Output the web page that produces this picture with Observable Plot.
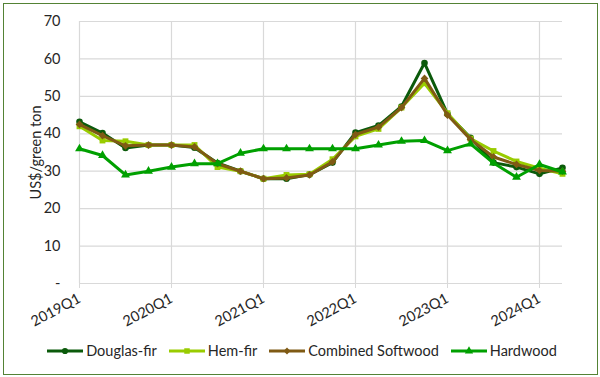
<!DOCTYPE html>
<html><head><meta charset="utf-8">
<script src="https://cdn.jsdelivr.net/npm/d3@7"></script>
<script src="https://cdn.jsdelivr.net/npm/@observablehq/plot@0.6"></script>
<style>
body{margin:0;background:#fff;font-family:Lato,"Open Sans",sans-serif;color:#262626;}
#frame{position:absolute;left:3px;top:3px;width:595px;height:372px;border:1.5px solid #548235;box-sizing:border-box;}
#chart{position:absolute;left:0;top:0;}
#legend{position:absolute;left:0;top:342px;width:604px;display:flex;justify-content:center;align-items:center;gap:12px;font-size:14.5px;color:#262626;}
.item{display:flex;align-items:center;gap:3px;}
</style>
</head><body>
<div id="frame"></div>
<div id="chart"></div>
<div id="legend"></div>
<script>
const quarters = ["2019Q1","2019Q2","2019Q3","2019Q4","2020Q1","2020Q2","2020Q3","2020Q4","2021Q1","2021Q2","2021Q3","2021Q4","2022Q1","2022Q2","2022Q3","2022Q4","2023Q1","2023Q2","2023Q3","2023Q4","2024Q1","2024Q2"];
const douglasFir = [43.2,40.2,36.2,37,37,36.3,32.2,30,28,28,29.1,32.3,40.3,42.2,47.3,58.9,45.3,38.9,32.3,31.1,29.3,30.9];
const hemFir     = [42,38.2,38,37,37,37,31.1,30,28,29,29.2,33.2,39.3,41.3,47,53.5,45.5,38.7,35.4,32.6,30.8,29.3];
const combined   = [42.5,39.5,36.8,37,37,36.5,32,30,28,28.2,29,32.5,39.8,41.8,47,54.8,45,38.5,33.8,31.8,30.2,30];
const hardwood   = [36,34.2,29,30,31.1,32,32,34.8,36,36,36,36,36,37,38,38.2,35.5,37.3,32.2,28.4,31.8,29.8];
const seriesNames = ["Douglas-fir","Hem-fir","Combined Softwood","Hardwood"];
const seriesValues = [douglasFir, hemFir, combined, hardwood];
const seriesColors = ["#0b5a0b","#99cc00","#7f5a14","#00a000"];
const seriesSymbols = ["circle","square","diamond2","triangle"];
const yTicks = [0,10,20,30,40,50,60,70];
const xTicks = quarters.filter(q => q.endsWith("Q1"));

const marks = [
  Plot.gridY(yTicks, {stroke:"#d9d9d9", strokeOpacity:1, strokeWidth:1.2}),
  Plot.gridX(xTicks, {stroke:"#d9d9d9", strokeOpacity:1, strokeWidth:1.2}),
  Plot.axisX({ticks:xTicks, tickSize:5, stroke:"#d9d9d9", tickRotate:-28, tickPadding:9, fontSize:14.5, label:null, fill:"#262626"}),
  Plot.axisY({ticks:yTicks, tickSize:0, tickPadding:19, fontSize:14.5, tickFormat:d => d===0 ? "-" : d, label:"US$/green ton", labelAnchor:"center", labelArrow:"none", labelOffset:49, fill:"#262626"})
];
seriesNames.forEach((name,i) => {
  const data = quarters.map((q,j) => ({q, v: seriesValues[i][j]}));
  marks.push(Plot.line(data, {x:"q", y:"v", stroke:seriesColors[i], strokeWidth:3}));
  marks.push(Plot.dot(data, {x:"q", y:"v", fill:seriesColors[i], symbol:seriesSymbols[i], r: i===2 ? 3.5 : 3.3}));
});

const chart = Plot.plot({
  width:600, height:340,
  marginLeft:79, marginRight:38, marginTop:21, marginBottom:57,
  style:{fontFamily:"Lato, 'Open Sans', sans-serif", background:"transparent"},
  x:{type:"point", domain:quarters, padding:0},
  y:{domain:[0,70]},
  marks
});
document.getElementById("chart").appendChild(chart);

const legend = document.getElementById("legend");
const sym = {circle:d3.symbolCircle, square:d3.symbolSquare, diamond2:d3.symbolDiamond2, triangle:d3.symbolTriangle};
seriesNames.forEach((name,i) => {
  const item = document.createElement("div");
  item.className = "item";
  const path = d3.symbol(sym[seriesSymbols[i]], 30)();
  item.innerHTML = `<svg width="36" height="10"><line x1="0" x2="36" y1="5" y2="5" stroke="${seriesColors[i]}" stroke-width="3"/><path d="${path}" transform="translate(18,5)" fill="${seriesColors[i]}"/></svg><span>${name}</span>`;
  legend.appendChild(item);
});
</script>
</body></html>
